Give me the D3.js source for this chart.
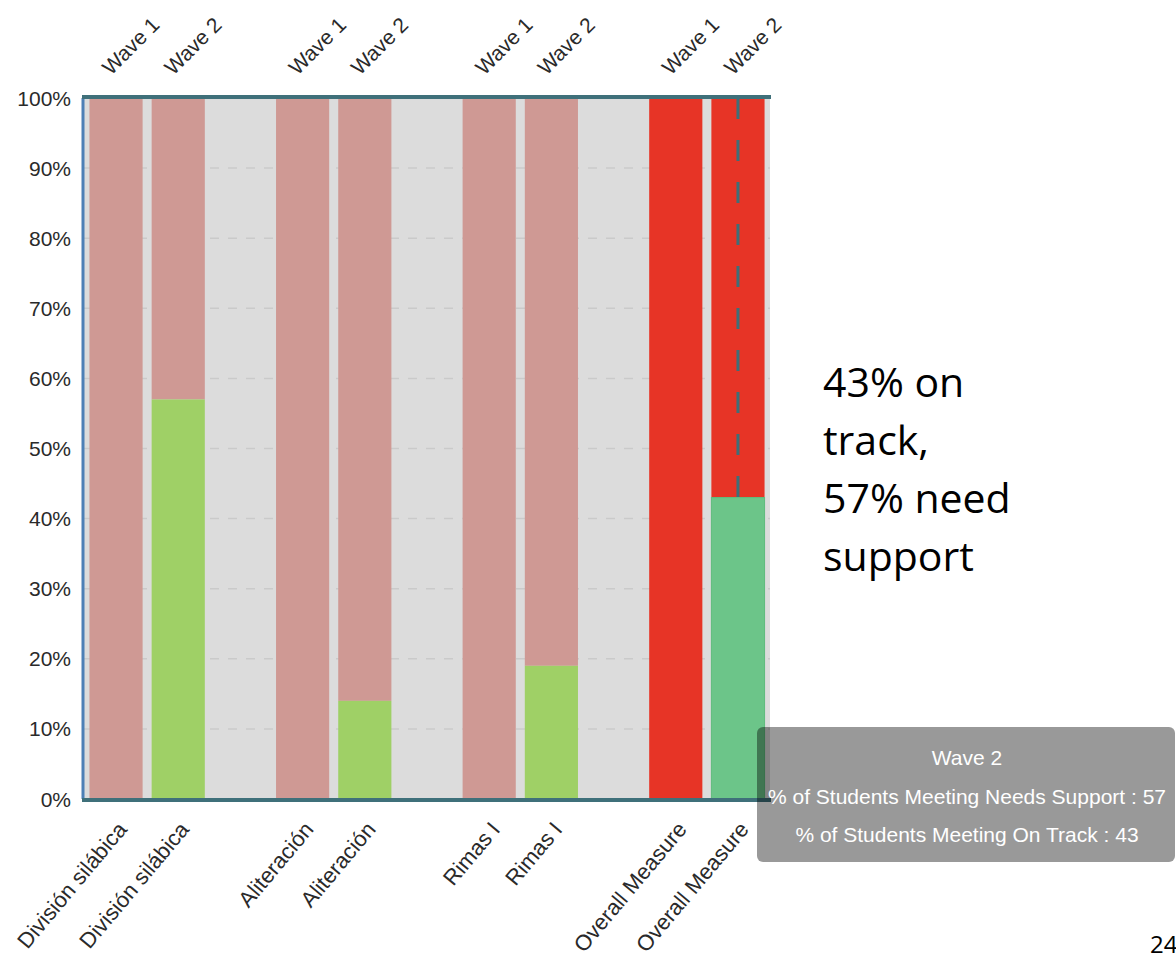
<!DOCTYPE html>
<html>
<head>
<meta charset="utf-8">
<script src="https://cdn.jsdelivr.net/npm/d3@7"></script>
<style>
  html, body { margin: 0; padding: 0; background: #fff; }
  svg { display: block; }
</style>
</head>
<body>
<svg id="chart" width="1176" height="960"></svg>
<script>
// ---- data ----
const categories   = ["División silábica", "División silábica", "", "Aliteración", "Aliteración", "", "Rimas I", "Rimas I", "", "Overall Measure", "Overall Measure"];
const waves        = ["Wave 1", "Wave 2", "", "Wave 1", "Wave 2", "", "Wave 1", "Wave 2", "", "Wave 1", "Wave 2"];
const onTrack      = [0, 57, null, 0, 14, null, 0, 19, null, 0, 43];
const needsSupport = [100, 43, null, 100, 86, null, 100, 81, null, 100, 57];
const isOverall    = [false, false, false, false, false, false, false, false, false, true, true];
const yTicks       = [0, 10, 20, 30, 40, 50, 60, 70, 80, 90, 100];
const noteLines    = ["43% on", "track,", "57% need", "support"];
const tooltipLines = ["Wave 2", "% of Students Meeting Needs Support : 57", "% of Students Meeting On Track : 43"];
const highlightIndex = 10;
const pageNumber = "24";

// ---- layout ----
const svg = d3.select("#chart");
const plot = { left: 84, right: 770, top: 98, bottom: 799 };
const font = "'Liberation Sans', Arial, Helvetica, sans-serif";

const x = d3.scaleBand()
  .domain(d3.range(categories.length))
  .range([plot.left, plot.right])
  .paddingInner(0.145)
  .paddingOuter(0.0875);

const y = d3.scaleLinear().domain([0, 100]).range([plot.bottom, plot.top]);

// background
svg.append("rect")
  .attr("x", plot.left).attr("y", plot.top)
  .attr("width", plot.right - plot.left).attr("height", plot.bottom - plot.top)
  .attr("fill", "#dcdcdc");

// gridlines
svg.append("g")
  .selectAll("line")
  .data(yTicks.filter(t => t > 0 && t < 100))
  .join("line")
  .attr("x1", plot.left).attr("x2", plot.right)
  .attr("y1", d => y(d)).attr("y2", d => y(d))
  .attr("stroke", "#cacaca")
  .attr("stroke-width", 1.5)
  .attr("stroke-dasharray", "9,9");

// bars
const idx = d3.range(categories.length).filter(i => needsSupport[i] !== null);
const colors = {
  needs: i => isOverall[i] ? "#e73426" : "#cf9994",
  track: i => isOverall[i] ? "#6cc589" : "#9fd066"
};

svg.append("g").selectAll("rect")
  .data(idx)
  .join("rect")
  .attr("x", i => x(i))
  .attr("width", x.bandwidth())
  .attr("y", i => y(onTrack[i] + needsSupport[i]))
  .attr("height", i => y(onTrack[i]) - y(onTrack[i] + needsSupport[i]))
  .attr("fill", i => colors.needs(i));

svg.append("g").selectAll("rect")
  .data(idx.filter(i => onTrack[i] > 0))
  .join("rect")
  .attr("x", i => x(i))
  .attr("width", x.bandwidth())
  .attr("y", i => y(onTrack[i]))
  .attr("height", i => y(0) - y(onTrack[i]))
  .attr("fill", i => colors.track(i))
  .attr("stroke", i => i === highlightIndex ? "#5fbb7c" : "none")
  .attr("stroke-width", 1);

// highlight dashed line
svg.append("line")
  .attr("x1", x(highlightIndex) + x.bandwidth() / 2)
  .attr("x2", x(highlightIndex) + x.bandwidth() / 2)
  .attr("y1", y(100))
  .attr("y2", y(onTrack[highlightIndex]))
  .attr("stroke", "#3d6f78")
  .attr("stroke-width", 3)
  .attr("stroke-dasharray", "21,21");

// axes lines
svg.append("line")
  .attr("x1", plot.left - 1).attr("x2", plot.left - 1)
  .attr("y1", plot.top).attr("y2", plot.bottom)
  .attr("stroke", "#4d80b6").attr("stroke-width", 3);
svg.append("line")
  .attr("x1", plot.left - 2).attr("x2", plot.right + 1)
  .attr("y1", plot.top - 1).attr("y2", plot.top - 1)
  .attr("stroke", "#3f707a").attr("stroke-width", 4);
svg.append("line")
  .attr("x1", plot.left - 2).attr("x2", plot.right + 1)
  .attr("y1", plot.bottom + 1).attr("y2", plot.bottom + 1)
  .attr("stroke", "#3f707a").attr("stroke-width", 4);

// y axis labels
svg.append("g").selectAll("text")
  .data(yTicks)
  .join("text")
  .attr("x", 71)
  .attr("y", d => y(d) + 7.5)
  .attr("text-anchor", "end")
  .attr("font-family", font)
  .attr("font-size", 21)
  .attr("fill", "#2a2a2a")
  .text(d => d + "%");

// top wave labels
svg.append("g").selectAll("text")
  .data(idx)
  .join("text")
  .attr("transform", i => `translate(${x(i) + x.bandwidth() / 2 - 5},${76}) rotate(-45)`)
  .attr("text-anchor", "start")
  .attr("font-family", font)
  .attr("font-size", 21)
  .attr("fill", "#2a2a2a")
  .text(i => waves[i]);

// bottom category labels
svg.append("g").selectAll("text")
  .data(idx)
  .join("text")
  .attr("transform", i => `translate(${x(i) + x.bandwidth() / 2 + 12},${830}) rotate(-50)`)
  .attr("text-anchor", "end")
  .attr("font-family", font)
  .attr("font-size", 22)
  .attr("fill", "#2a2a2a")
  .text(i => categories[i]);

// annotation text
svg.append("g").selectAll("text")
  .data(noteLines)
  .join("text")
  .attr("x", 823)
  .attr("y", (d, i) => 397 + i * 58)
  .attr("font-family", "'Open Sans', 'Noto Sans', sans-serif")
  .attr("font-size", 41)
  .attr("fill", "#000")
  .text(d => d);

// tooltip
const tip = svg.append("g");
tip.append("rect")
  .attr("x", 757).attr("y", 727)
  .attr("width", 418).attr("height", 135)
  .attr("rx", 6)
  .attr("fill", "rgba(0,0,0,0.4)");
tip.selectAll("text")
  .data(tooltipLines)
  .join("text")
  .attr("x", 967)
  .attr("y", (d, i) => 765 + i * 38.5)
  .attr("text-anchor", "middle")
  .attr("font-family", font)
  .attr("font-size", 21)
  .attr("fill", "#fff")
  .text(d => d);

// page number
svg.append("text")
  .attr("x", 1150).attr("y", 953)
  .attr("font-family", "'Open Sans', 'Noto Sans', sans-serif")
  .attr("font-size", 24)
  .attr("fill", "#000")
  .text(pageNumber);
</script>
</body>
</html>
